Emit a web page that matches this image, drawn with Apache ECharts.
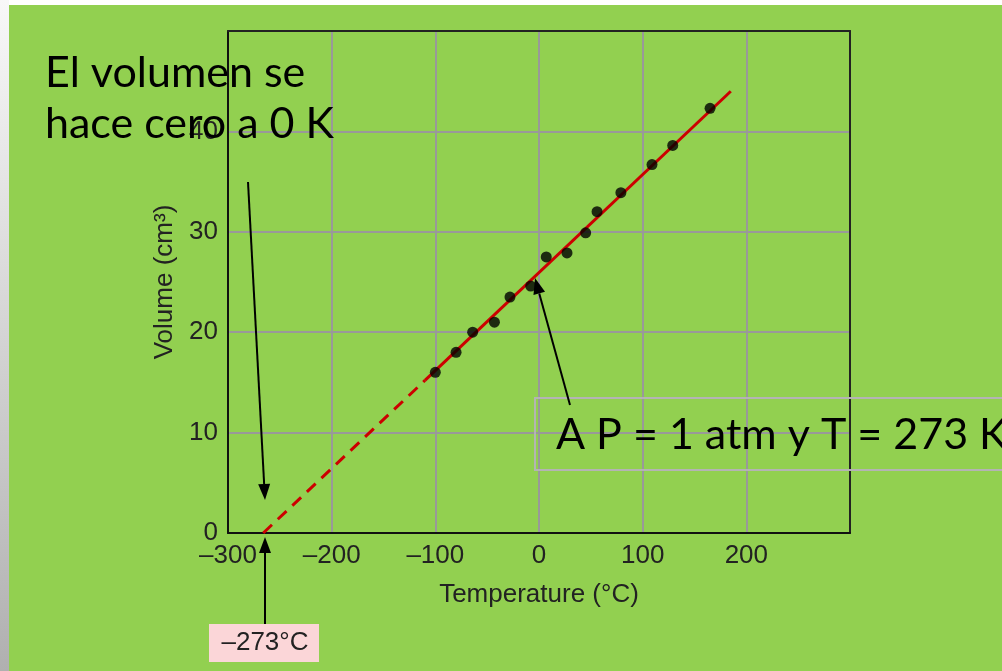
<!DOCTYPE html>
<html>
<head>
<meta charset="utf-8">
<script src="https://cdn.jsdelivr.net/npm/echarts@6/dist/echarts.min.js"></script>
<style>html,body{margin:0;padding:0;background:#fff}#c{width:1002px;height:671px}</style>
</head>
<body>
<div id="c"></div>
<script>
// Measured data (Temperature °C, Volume cm³)
const tempC  = [-100, -80, -64, -43, -28, -8, 7, 27, 45, 56, 79, 109, 129, 165];
const volume = [16, 18, 20, 21, 23.5, 24.6, 27.5, 27.9, 29.9, 32, 33.9, 36.7, 38.6, 42.3];
// Fit line: measured part (solid) and extrapolation (dashed)
const solidT = [-110, 185];
const solidV = [15.2, 44.0];
const dashT  = [-266, -110];
const dashV  = [0, 15.2];
// Axis ticks
const xTicks = [-300, -200, -100, 0, 100, 200];
const yTicks = [0, 10, 20, 30, 40];

const chart = echarts.init(document.getElementById('c'), null, {renderer: 'canvas'});
const TXT = '#222';
const FONT = '"Liberation Sans", Arial, sans-serif';
const HAND = 'Lato, "DejaVu Sans", sans-serif';

function arrow(x1, y1, x2, y2) {
  const ang = Math.atan2(y2 - y1, x2 - x1);
  const L = 16, W = 6;
  const bx = x2 - L * Math.cos(ang), by = y2 - L * Math.sin(ang);
  const px = -Math.sin(ang) * W, py = Math.cos(ang) * W;
  return [
    {type: 'line', z: 100, shape: {x1: x1, y1: y1, x2: bx, y2: by}, style: {stroke: '#000', lineWidth: 2}},
    {type: 'polygon', z: 100, shape: {points: [[x2, y2], [bx + px, by + py], [bx - px, by - py]]}, style: {fill: '#000'}}
  ];
}

const graphics = [
  {type: 'rect', z: -10, shape: {x: 0, y: 0, width: 1002, height: 5}, style: {fill: '#fff'}},
  {type: 'rect', z: -10, shape: {x: 0, y: 0, width: 9, height: 671},
   style: {fill: new echarts.graphic.LinearGradient(0, 0, 0, 1, [{offset: 0, color: '#f8f8f8'}, {offset: 1, color: '#b0b0b0'}])}},
  {type: 'text', z: 100, x: 45, y: 73, style: {text: 'El volumen se', font: '43px ' + HAND, fill: '#000', verticalAlign: 'middle'}},
  {type: 'text', z: 100, x: 45, y: 124, style: {text: 'hace cero a 0 K', font: '43px ' + HAND, fill: '#000', verticalAlign: 'middle'}},
  {type: 'rect', z: 90, shape: {x: 535, y: 398, width: 480, height: 72}, style: {fill: 'rgba(0,0,0,0)', stroke: '#b4b4b4', lineWidth: 2}},
  {type: 'text', z: 100, x: 556, y: 435, style: {text: 'A P = 1 atm y T = 273 K', font: '43px ' + HAND, fill: '#000', verticalAlign: 'middle'}},
  {type: 'rect', z: 90, shape: {x: 209, y: 624, width: 110, height: 38}, style: {fill: '#fbd6d8'}},
  {type: 'text', z: 100, x: 265, y: 643, style: {text: '\u2013273\u00b0C', font: '26px ' + FONT, fill: TXT, align: 'center', verticalAlign: 'middle'}}
].concat(arrow(248, 182, 265, 500), arrow(570, 405, 535, 278), arrow(265, 624, 265, 537));

const frameLine = {lineStyle: {color: '#222', width: 2}};

chart.setOption({
  animation: false,
  backgroundColor: '#92D050',
  grid: {left: 228, right: 152, top: 31, bottom: 138},
  xAxis: [{
    type: 'value', min: -300, max: 300, interval: 100,
    name: 'Temperature (\u00b0C)', nameLocation: 'middle', nameGap: 49,
    nameTextStyle: {color: TXT, fontSize: 26, fontFamily: FONT},
    axisLine: {onZero: false, lineStyle: {color: '#111', width: 2}},
    axisTick: {show: false},
    axisLabel: {color: TXT, fontSize: 26, fontFamily: FONT, margin: 10,
      formatter: v => xTicks.includes(v) ? String(v).replace('-', '\u2013') : ''},
    splitLine: {lineStyle: {color: '#999', width: 2}}
  }, {
    type: 'value', position: 'top', min: -300, max: 300, interval: 100,
    axisLine: Object.assign({onZero: false}, frameLine), axisTick: {show: false},
    axisLabel: {show: false}, splitLine: {show: false}
  }],
  yAxis: [{
    type: 'value', min: 0, max: 50, interval: 10,
    name: 'Volume (cm\u00b3)', nameLocation: 'middle', nameGap: 50,
    nameTextStyle: {color: TXT, fontSize: 26, fontFamily: FONT},
    axisLine: {show: true, onZero: false, lineStyle: {color: '#111', width: 2}},
    axisTick: {show: false},
    axisLabel: {color: TXT, fontSize: 26, fontFamily: FONT, margin: 10,
      formatter: v => yTicks.includes(v) ? String(v) : ''},
    splitLine: {lineStyle: {color: '#999', width: 2}}
  }, {
    type: 'value', position: 'right', min: 0, max: 50, interval: 10,
    axisLine: Object.assign({show: true, onZero: false}, frameLine), axisTick: {show: false},
    axisLabel: {show: false}, splitLine: {show: false}
  }],
  series: [
    {type: 'line', data: dashT.map((t, i) => [t, dashV[i]]), symbol: 'none', z: 3,
     lineStyle: {color: '#cc0000', width: 3, type: [12, 8]}},
    {type: 'line', data: solidT.map((t, i) => [t, solidV[i]]), symbol: 'none', z: 3,
     lineStyle: {color: '#cc0000', width: 3}},
    {type: 'scatter', data: tempC.map((t, i) => [t, volume[i]]), symbolSize: 11, z: 4,
     itemStyle: {color: '#000'}}
  ],
  graphic: graphics
});
</script>
</body>
</html>
